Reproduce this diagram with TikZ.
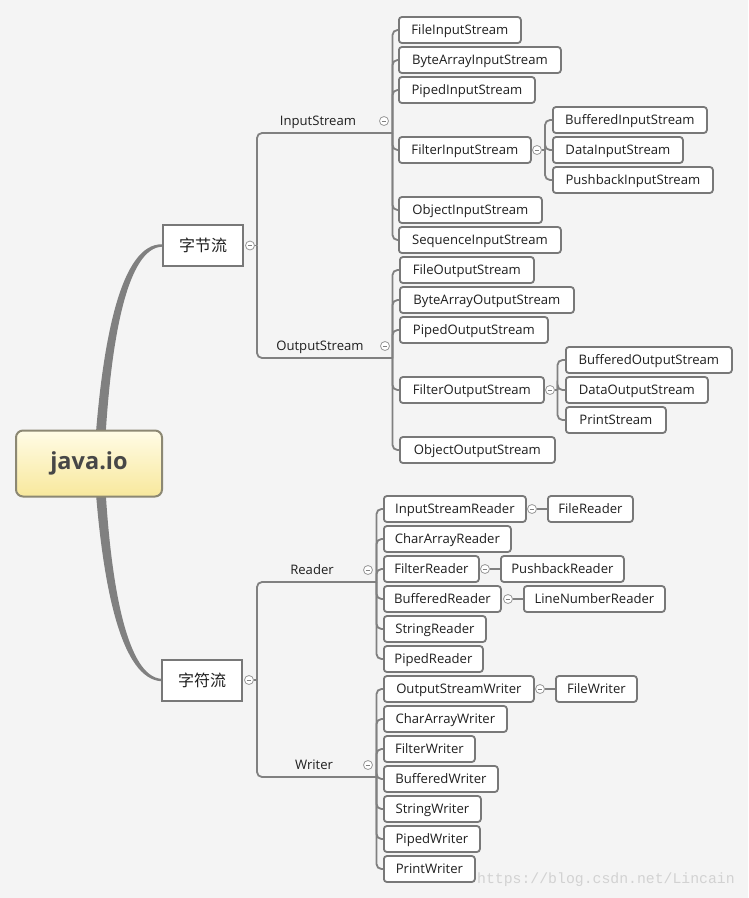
\documentclass[tikz,border=0pt]{standalone}
\usepackage{fontspec}
\setmainfont{Open Sans}
\newfontfamily\cjkfont{Noto Sans CJK SC}
\newfontfamily\wmfont{Liberation Mono}
\usetikzlibrary{calc}
\definecolor{bgc}{HTML}{F4F4F4}
\definecolor{linec}{HTML}{808080}
\definecolor{boxc}{HTML}{787878}
\definecolor{txtc}{HTML}{1E1E1E}
\definecolor{rootb}{HTML}{8C8873}
\definecolor{roott}{HTML}{FFFCE6}
\definecolor{rootbot}{HTML}{F8E89C}
\definecolor{wmc}{HTML}{D2D2D2}
\tikzset{
  box/.style={draw=boxc, line width=1.8pt, fill=white, rounded corners=3pt,
    minimum height=26pt, inner sep=0pt, anchor=west, text=txtc,
    text height=10.5pt, text depth=2pt,
    font=\fontsize{13.1}{15}\selectfont},
  topbox/.style={draw=boxc, line width=2pt, fill=white, minimum width=80pt,
    minimum height=41pt, inner sep=0pt, text=txtc, font=\cjkfont\fontsize{16}{19}\selectfont},
  lbl/.style={inner sep=0pt, text=txtc, text height=10.5pt, text depth=2pt,
    font=\fontsize{13.1}{15}\selectfont},
  tog/.style={circle, draw=linec!80, line width=0.8pt, fill=white, minimum size=9pt, inner sep=0pt,
    path picture={\draw[linec, line width=0.8pt] ([xshift=-2.4pt]path picture bounding box.center) -- ([xshift=2.4pt]path picture bounding box.center);}},
  conn/.style={draw=linec, line width=1.8pt, rounded corners=5pt},
}
\begin{document}
\begin{tikzpicture}[x=1pt,y=-1pt]
\useasboundingbox (0,0) rectangle (748,898);
\fill[bgc] (0,0) rectangle (748,898);

% main nodes
\node[topbox] (byte) at (203,245.5) {字节流};
\node[topbox] (char) at (202,680) {字符流};

% thick tapered branches (drawn behind root)
\fill[linec] (95,445) .. controls (103,335) and (122,243.5) .. ($(byte.west)+(0,-1.2)$)
  -- ($(byte.west)+(0,1.2)$) .. controls (128,248) and (111,335) .. (105,445) -- cycle;
\fill[linec] (95,481) .. controls (103,591) and (122,678.5) .. ($(char.west)+(0,1.2)$)
  -- ($(char.west)+(0,-1.2)$) .. controls (128,676) and (111,591) .. (105,481) -- cycle;

\node[draw=rootb, line width=2pt, rounded corners=7pt, top color=roott, bottom color=rootbot,
  minimum width=146pt, minimum height=66pt, inner sep=0pt, text=black!72,
  font=\bfseries\fontsize{23.5}{27}\selectfont] (root) at (89,463.5) {java.io};

% toggles of main nodes
\node[tog] (tbyte) at (250,245.5) {};
\node[tog] (tchar) at (249,680) {};
\coordinate (jbyte) at (257,245.5);
\coordinate (jchar) at (257,680);

% labels
\node[lbl] (in) at (318,121) {InputStream};
\node[lbl] (out) at (320,346) {OutputStream};
\node[lbl] (rd) at (312,570) {Reader};
\node[lbl] (wr) at (314,765) {Writer};
\node[tog] (tin) at (384,121) {};
\node[tog] (tout) at (385,346) {};
\node[tog] (trd) at (368,570) {};
\node[tog] (twr) at (368,765) {};
\coordinate (jin) at (392.5,133);
\coordinate (jout) at (392.5,358);
\coordinate (jrd) at (376.5,582);
\coordinate (jwr) at (376.5,777);

\draw[conn] (tbyte.east) -- (jbyte);
\draw[conn] (jbyte) |- (jin);
\draw[conn] (jbyte) |- (jout);
\draw[conn] (tchar.east) -- (jchar);
\draw[conn] (jchar) |- (jrd);
\draw[conn] (jchar) |- (jwr);

% InputStream children
\node[box, minimum width=122pt] (fis) at (398,30) {FileInputStream};
\node[box, minimum width=162pt] (bais) at (398,60) {ByteArrayInputStream};
\node[box, minimum width=136pt] (pis) at (398,90) {PipedInputStream};
\node[box, minimum width=132pt] (filis) at (398,150) {FilterInputStream};
\node[box, minimum width=143pt] (ois) at (398,210) {ObjectInputStream};
\node[box, minimum width=162pt] (sis) at (398,240) {SequenceInputStream};
\foreach \c in {fis,bais,pis,filis,ois,sis} \draw[conn] (jin) |- (\c.west);

\node[tog] (tfilis) at (537,150) {};
\coordinate (jfilis) at (545,150);
\node[box, minimum width=154pt] (bis) at (552,120) {BufferedInputStream};
\node[box, minimum width=130pt] (dis) at (552,150) {DataInputStream};
\node[box, minimum width=160pt] (pbis) at (552,180) {PushbackInputStream};
\draw[conn] (tfilis.east) -- (jfilis);
\foreach \c in {bis,dis,pbis} \draw[conn] (jfilis) |- (\c.west);

% OutputStream children
\node[box, minimum width=134pt] (fos) at (399,270) {FileOutputStream};
\node[box, minimum width=174pt] (baos) at (399,300) {ByteArrayOutputStream};
\node[box, minimum width=148pt] (pos) at (399,330) {PipedOutputStream};
\node[box, minimum width=144pt] (filos) at (399,390) {FilterOutputStream};
\node[box, minimum width=155pt] (oos) at (399,450) {ObjectOutputStream};
\foreach \c in {fos,baos,pos,filos,oos} \draw[conn] (jout) |- (\c.west);

\node[tog] (tfilos) at (550,390) {};
\coordinate (jfilos) at (557.5,390);
\node[box, minimum width=166pt] (bos) at (565,360) {BufferedOutputStream};
\node[box, minimum width=142pt] (dos) at (565,390) {DataOutputStream};
\node[box, minimum width=100pt] (ps) at (565,420) {PrintStream};
\draw[conn] (tfilos.east) -- (jfilos);
\foreach \c in {bos,dos,ps} \draw[conn] (jfilos) |- (\c.west);

% Reader children
\node[box, minimum width=142pt] (isr) at (383,509) {InputStreamReader};
\node[box, minimum width=127pt] (car) at (383,539) {CharArrayReader};
\node[box, minimum width=95pt] (fr) at (383,569) {FilterReader};
\node[box, minimum width=117pt] (br) at (383,599) {BufferedReader};
\node[box, minimum width=102pt] (sr) at (383,629) {StringReader};
\node[box, minimum width=99pt] (pr) at (383,659) {PipedReader};
\foreach \c in {isr,car,fr,br,sr,pr} \draw[conn] (jrd) |- (\c.west);

\node[tog] (tisr) at (532,509) {};
\node[box, minimum width=85pt] (filer) at (547,509) {FileReader};
\draw[conn] (tisr.east) -- (filer.west);
\node[tog] (tfr) at (485,569) {};
\node[box, minimum width=123pt] (pbr) at (500,569) {PushbackReader};
\draw[conn] (tfr.east) -- (pbr.west);
\node[tog] (tbr) at (508,599) {};
\node[box, minimum width=141pt] (lnr) at (523,599) {LineNumberReader};
\draw[conn] (tbr.east) -- (lnr.west);

% Writer children
\node[box, minimum width=150pt] (osw) at (383,689) {OutputStreamWriter};
\node[box, minimum width=123pt] (caw) at (383,719) {CharArrayWriter};
\node[box, minimum width=91pt] (fw) at (383,749) {FilterWriter};
\node[box, minimum width=114pt] (bw) at (383,779) {BufferedWriter};
\node[box, minimum width=97pt] (sw) at (383,809) {StringWriter};
\node[box, minimum width=96pt] (pw) at (383,839) {PipedWriter};
\node[box, minimum width=91pt] (prw) at (383,869) {PrintWriter};
\foreach \c in {osw,caw,fw,bw,sw,pw,prw} \draw[conn] (jwr) |- (\c.west);

\node[tog] (tosw) at (540,689) {};
\node[box, minimum width=81pt] (filew) at (555,689) {FileWriter};
\draw[conn] (tosw.east) -- (filew.west);

% watermark
\node[anchor=west, inner sep=0pt, text=wmc, font=\wmfont\fontsize{14.8}{17}\selectfont] (wm) at (477,880) {https://blog.csdn.net/Lincain};
\end{tikzpicture}
\end{document}
